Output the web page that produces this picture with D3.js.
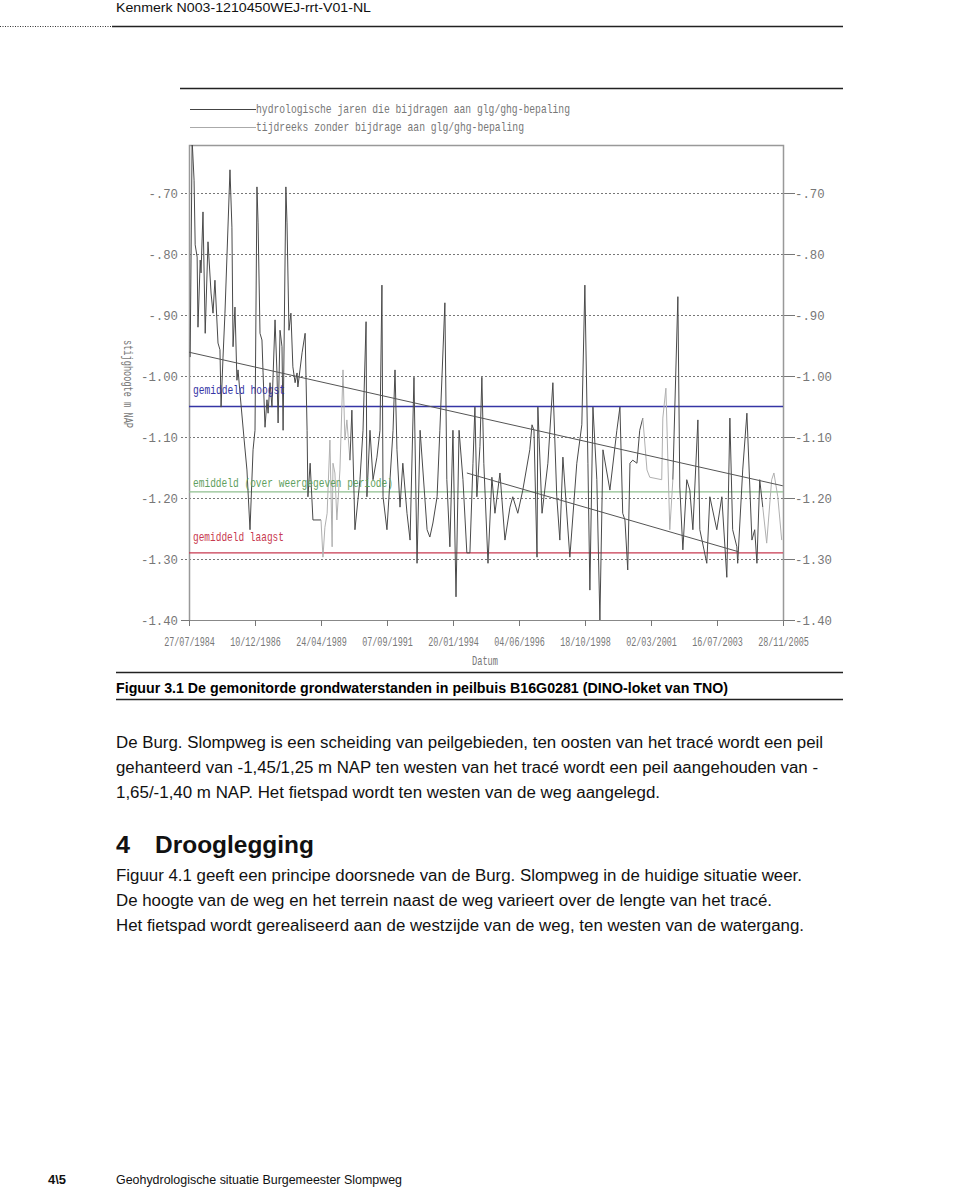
<!DOCTYPE html>
<html><head><meta charset="utf-8">
<script src="https://cdn.jsdelivr.net/npm/d3@7"></script>
<style>body{margin:0;background:#fff}</style>
</head><body><svg id="c" width="960" height="1188"></svg>
<script>
// ---- data ----
const years = [1984.61,1984.68,1984.75,1984.79,1984.86,1984.89,1984.97,1985.00,1985.07,1985.15,
1985.25,1985.36,1985.43,1985.50,1985.61,1985.68,1985.72,1985.79,1985.86,1986.04,
1986.11,1986.15,1986.22,1986.29,1986.33,1986.40,1986.55,1986.65,1986.76,1986.87,
1986.94,1987.01,1987.05,1987.12,1987.19,1987.23,1987.30,1987.37,1987.41,1987.48,
1987.55,1987.66,1987.73,1987.77,1987.84,1987.91,1987.95,1988.05,1988.09,1988.16,
1988.23,1988.30,1988.38,1988.45,1988.48,1988.63,1988.74,1988.81,1988.84,1988.92,
1989.02,1989.31,1989.38,1989.45,1989.53,1989.63,1989.71,1989.74,1989.81,1989.88,
1989.99,1990.10,1990.17,1990.24,1990.35,1990.42,1990.53,1990.71,1990.82,1990.93,
1990.96,1991.07,1991.18,1991.32,1991.43,1991.50,1991.54,1991.68,1991.79,1991.90,
1991.97,1992.04,1992.15,1992.25,1992.40,1992.51,1992.65,1992.76,1992.87,1993.12,
1993.22,1993.33,1993.48,1993.58,1993.76,1993.83,1993.94,1994.05,1994.16,1994.27,
1994.41,1994.55,1994.66,1994.77,1994.84,1994.91,1995.02,1995.09,1995.16,1995.31,
1995.45,1995.56,1995.74,1995.92,1996.10,1996.20,1996.38,1996.56,1996.81,1996.89,
1996.96,1997.07,1997.10,1997.25,1997.46,1997.64,1997.78,1997.89,1998.00,1998.25,
1998.50,1998.68,1998.79,1998.90,1998.97,1999.08,1999.22,1999.33,1999.44,1999.69,
1999.94,2000.05,2000.15,2000.23,2000.33,2000.41,2000.51,2000.66,2000.76,2000.87,
2001.02,2001.12,2001.55,2001.59,2001.70,2001.84,2001.95,2002.13,2002.20,2002.31,
2002.45,2002.56,2002.67,2002.85,2002.92,2003.17,2003.28,2003.53,2003.71,2003.89,
2004.00,2004.10,2004.25,2004.28,2004.46,2004.61,2004.79,2004.89,2004.97,2005.07,
2005.18,2005.32,2005.50,2005.58,2005.72,2005.86];

const levels = [-0.969,-0.613,-0.679,-0.785,-0.805,-0.920,-0.810,-0.831,-0.731,-0.930,
-0.780,-0.864,-0.897,-0.843,-0.946,-0.957,-1.051,-0.969,-0.897,-0.662,
-0.756,-0.952,-0.887,-1.007,-0.990,-1.028,-1.105,-1.154,-1.252,-1.121,
-1.089,-0.690,-0.749,-0.930,-0.941,-0.995,-1.084,-1.039,-1.061,-1.011,
-1.051,-0.908,-0.995,-1.077,-0.925,-0.952,-1.089,-0.690,-0.749,-0.925,
-0.897,-0.985,-1.011,-0.995,-1.018,-0.962,-0.930,-1.089,-1.198,-1.143,
-1.236,-1.236,-1.297,-1.248,-1.225,-1.105,-1.280,-1.143,-1.159,-1.236,
-1.154,-0.990,-1.105,-1.072,-1.138,-1.056,-1.252,-1.170,-1.089,-0.911,
-1.198,-1.089,-1.170,-1.133,-1.089,-0.851,-1.198,-1.252,-1.170,-1.089,
-0.990,-1.121,-1.215,-1.143,-1.225,-1.269,-1.002,-1.307,-1.089,-1.252,
-1.264,-1.241,-1.198,-1.089,-0.880,-1.170,-1.280,-1.089,-1.362,-1.089,
-1.170,-1.290,-1.290,-1.143,-1.051,-1.198,-1.116,-1.002,-1.143,-1.307,
-1.166,-1.225,-1.159,-1.269,-1.215,-1.198,-1.225,-1.187,-1.121,-1.080,
-1.089,-1.297,-1.051,-1.225,-1.143,-1.011,-1.198,-1.269,-1.133,-1.297,
-1.143,-1.080,-0.851,-1.143,-1.351,-1.051,-1.170,-1.400,-1.121,-1.187,
-1.089,-1.051,-1.225,-1.236,-1.318,-1.143,-1.138,-1.143,-1.089,-1.069,
-1.154,-1.166,-1.170,-1.069,-1.020,-1.252,-1.170,-0.870,-1.182,-1.285,
-1.170,-1.187,-1.252,-1.072,-1.252,-1.307,-1.198,-1.252,-1.198,-1.330,
-1.069,-1.252,-1.280,-1.307,-1.154,-1.061,-1.269,-1.252,-1.307,-1.170,
-1.215,-1.274,-1.170,-1.159,-1.198,-1.269];

// periods without contribution to glg/ghg (light grey)
const lightPeriods = [[1989.25, 1990.30], [2000.90, 2001.90], [2005.25, 2006.00]];

const xTickLabels = ["27/07/1984","10/12/1986","24/04/1989","07/09/1991","20/01/1994",
  "04/06/1996","18/10/1998","02/03/2001","16/07/2003","28/11/2005"];
const yTicks = [-0.70,-0.80,-0.90,-1.00,-1.10,-1.20,-1.30,-1.40];
const yTickLabels = ["-.70","-.80","-.90","-1.00","-1.10","-1.20","-1.30","-1.40"];

const avgHigh = -1.05, avgAll = -1.19, avgLow = -1.29;
const trendUpper = [[1984.57,-0.961],[2005.90,-1.180]];
const trendLower = [[1994.55,-1.159],[2004.30,-1.288]];

const legendLabels = ["hydrologische jaren die bijdragen aan glg/ghg-bepaling",
  "tijdreeks zonder bijdrage aan glg/ghg-bepaling"];

// ---- helpers ----
function decToDate(d){const yr=Math.floor(d);const s=new Date(yr,0,1),e=new Date(yr+1,0,1);return new Date(+s+(d-yr)*(e-s));}
const parse = d3.timeParse("%d/%m/%Y");
const svg = d3.select("#c");
svg.append("rect").attr("width",960).attr("height",1188).attr("fill","#fff");

function txt(x,y,s,o){
  o=o||{};
  const t=svg.append("text").attr("x",x).attr("y",y).text(s)
    .attr("font-family",o.ff||"'Liberation Sans', Arial, sans-serif")
    .attr("font-size",o.fs||13).attr("fill",o.fill||"#000")
    .attr("font-weight",o.fw||"normal").attr("text-anchor",o.anchor||"start");
  if(o.tl){t.attr("textLength",o.tl).attr("lengthAdjust","spacingAndGlyphs");}
  if(o.tr) t.attr("transform",o.tr);
  return t;
}
const mono="'Liberation Mono','DejaVu Sans Mono',monospace";

// ---- page header ----
txt(116,12,"Kenmerk N003-1210450WEJ-rrt-V01-NL",{fs:13,fill:"#111",tl:255});
svg.append("line").attr("x1",0).attr("x2",112).attr("y1",26.5).attr("y2",26.5)
  .attr("stroke","#333").attr("stroke-width",1.2).attr("stroke-dasharray","1,1.5");
svg.append("line").attr("x1",112).attr("x2",843).attr("y1",26.5).attr("y2",26.5)
  .attr("stroke","#222").attr("stroke-width",1.5);

// figure top rule
svg.append("line").attr("x1",180).attr("x2",843).attr("y1",88.5).attr("y2",88.5)
  .attr("stroke","#222").attr("stroke-width",1.5);

// ---- scales ----
const x = d3.scaleTime().domain([parse(xTickLabels[0]), parse(xTickLabels[xTickLabels.length-1])]).range([189,783]);
const y = d3.scaleLinear().domain([-1.40,-0.70]).range([620,193]);
const L=189,R=783,T=145,B=620;

// legend
const legendColors=["#444","#aaa"];
legendLabels.forEach((s,i)=>{
  const yy=109+i*18;
  svg.append("line").attr("x1",190).attr("x2",256).attr("y1",yy+0.5).attr("y2",yy+0.5)
    .attr("stroke",legendColors[i]).attr("stroke-width",1.2);
  txt(256,yy+4,s,{ff:mono,fs:13,fill:"#777",tl:i==0?314:268});
});

// gridlines
yTicks.forEach((v,i)=>{
  const yy=Math.round(y(v))+0.5;
  if(v>-1.4){
    svg.append("line").attr("x1",181).attr("x2",R).attr("y1",yy).attr("y2",yy)
      .attr("stroke","#777").attr("stroke-width",1).attr("stroke-dasharray","2,2");
  } else {
    svg.append("line").attr("x1",181).attr("x2",L).attr("y1",yy).attr("y2",yy).attr("stroke","#777");
  }
  svg.append("line").attr("x1",R).attr("x2",795).attr("y1",yy).attr("y2",yy).attr("stroke","#777");
  const lab = yTickLabels[i];
  txt(178,yy+4,lab,{ff:mono,fs:13,fill:"#777",anchor:"end",tl:lab.length*7.4});
  txt(795,yy+4,lab,{ff:mono,fs:13,fill:"#777",tl:lab.length*7.4});
});

// frame
svg.append("path").attr("d",`M${L+0.5},${B}V${T+0.5}H${R+0.5}V${B}`)
  .attr("fill","none").attr("stroke","#999").attr("stroke-width",1.5);
svg.append("line").attr("x1",L).attr("x2",R+1).attr("y1",B+0.5).attr("y2",B+0.5)
  .attr("stroke","#888").attr("stroke-width",1.2);

// x ticks & labels (condensed via horizontal scale)
xTickLabels.forEach(s=>{
  const xx=Math.round(x(parse(s)))+0.5;
  svg.append("line").attr("x1",xx).attr("x2",xx).attr("y1",B).attr("y2",B+6).attr("stroke","#777");
  txt(0,0,s,{ff:mono,fs:13,fill:"#777",anchor:"middle",tr:`translate(${xx},646) scale(0.65,1)`});
});
txt(0,0,"Datum",{ff:mono,fs:13,fill:"#777",anchor:"middle",tr:"translate(485,665) scale(0.67,1)"});
txt(0,0,"stijghoogte m NAP",{ff:mono,fs:13,fill:"#777",anchor:"middle",tl:88,tr:"translate(124,384) rotate(90)"});

// clip
svg.append("clipPath").attr("id","pc").append("rect").attr("x",L).attr("y",T).attr("width",R-L).attr("height",B-T);
const g=svg.append("g").attr("clip-path","url(#pc)");

// average lines
const avgs=[[avgHigh,"#3535a5"],[avgAll,"#8fbf8f"],[avgLow,"#c83a50"]];
avgs.forEach(([v,c])=>{
  g.append("line").attr("x1",L).attr("x2",R).attr("y1",y(v)).attr("y2",y(v)).attr("stroke",c).attr("stroke-width",1.3);
});

// series segments
const isLight=yr=>lightPeriods.some(p=>yr>=p[0]&&yr<=p[1]);
const pts=years.map((yr,i)=>({d:decToDate(yr),v:levels[i],yr}));
const line=d3.line().x(p=>x(p.d)).y(p=>y(p.v));
let runs=[],cur=null;
for(let i=0;i<pts.length-1;i++){
  const lt=isLight((pts[i].yr+pts[i+1].yr)/2);
  if(!cur||cur.lt!==lt){cur={lt,pts:[pts[i]]};runs.push(cur);}
  cur.pts.push(pts[i+1]);
}
runs.forEach(r=>{
  g.append("path").attr("d",line(r.pts)).attr("fill","none")
   .attr("stroke",r.lt?"#b0b0b0":"#4a4a4a").attr("stroke-width",1);
});

// trend lines
[trendUpper,trendLower].forEach(tr=>{
  g.append("path").attr("d",line(tr.map(p=>({d:decToDate(p[0]),v:p[1]}))))
   .attr("fill","none").attr("stroke","#555").attr("stroke-width",1);
});

// avg labels
txt(193,394,"gemiddeld hoogst",{ff:mono,fs:13,fill:"#3535a5",tl:92});
txt(193,487,"emiddeld (over weergegeven periode)",{ff:mono,fs:13,fill:"#5f9f5f",tl:200});
txt(193,541,"gemiddeld laagst",{ff:mono,fs:13,fill:"#c83a50",tl:91});

// ---- caption ----
svg.append("line").attr("x1",116).attr("x2",843).attr("y1",672.5).attr("y2",672.5).attr("stroke","#222").attr("stroke-width",1.5);
txt(116,693,"Figuur 3.1 De gemonitorde grondwaterstanden in peilbuis B16G0281 (DINO-loket van TNO)",{fs:14,fw:"bold",tl:612});
svg.append("line").attr("x1",116).attr("x2",843).attr("y1",699.5).attr("y2",699.5).attr("stroke","#222").attr("stroke-width",1.5);

// ---- body text ----
const bodyLines=[
 [748,"De Burg. Slompweg is een scheiding van peilgebieden, ten oosten van het tracé wordt een peil",707],
 [773,"gehanteerd van -1,45/1,25 m NAP ten westen van het tracé wordt een peil aangehouden van -",702],
 [798,"1,65/-1,40 m NAP. Het fietspad wordt ten westen van de weg aangelegd.",544],
 [881,"Figuur 4.1 geeft een principe doorsnede van de Burg. Slompweg in de huidige situatie weer.",686],
 [906,"De hoogte van de weg en het terrein naast de weg varieert over de lengte van het tracé.",656],
 [931,"Het fietspad wordt gerealiseerd aan de westzijde van de weg, ten westen van de watergang.",688]
];
bodyLines.forEach(([yy,s,w])=>txt(116,yy,s,{fs:16,fill:"#111",tl:w}));
txt(116,853,"4",{fs:23,fw:"bold",fill:"#111",tl:14});
txt(155,853,"Drooglegging",{fs:23,fw:"bold",fill:"#111",tl:159});

// ---- footer ----
txt(48,1184,"4\\5",{fs:13,fw:"bold",fill:"#111",tl:18});
txt(116,1184,"Geohydrologische situatie Burgemeester Slompweg",{fs:13,fill:"#111",tl:286});
</script></body></html>
